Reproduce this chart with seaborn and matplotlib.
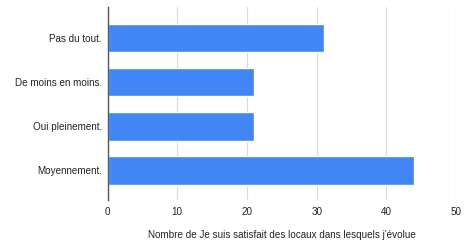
import matplotlib
matplotlib.use("Agg")
import matplotlib.pyplot as plt
import seaborn as sns
import pandas as pd

categories = ["Pas du tout.", "De moins en moins.", "Oui pleinement.", "Moyennement."]
values = [31, 21, 21, 44]
x_ticks = [0, 10, 20, 30, 40, 50]
x_label = "Nombre de Je suis satisfait des locaux dans lesquels j'évolue"

df = pd.DataFrame({"cat": categories, "val": values})

sns.set_theme(style="white")
plt.rcParams["font.family"] = ["Liberation Sans", "DejaVu Sans"]

fig = plt.figure(figsize=(4.75, 2.41), dpi=100)
ax = fig.add_axes([107.5 / 475, 1 - 200 / 241, (456 - 107.5) / 475, (200 - 7) / 241])

sns.barplot(data=df, x="val", y="cat", orient="h", color="#4285F4",
            saturation=1, width=0.65, ax=ax, zorder=3)

ax.set_xlim(0, 50)
ax.set_ylim(3.67, -0.70)
ax.set_xticks(x_ticks)
ax.set_xticklabels([str(t) for t in x_ticks])
ax.grid(axis="x", color="#d9d9d9", linewidth=0.8, zorder=0)
ax.set_axisbelow(True)
for s in ["top", "right", "bottom"]:
    ax.spines[s].set_visible(False)
ax.spines["left"].set_color("#555555")
ax.spines["left"].set_linewidth(1.0)
ax.spines["left"].set_zorder(4)
ax.tick_params(axis="both", length=0, labelsize=7.1, colors="#222222")
ax.tick_params(axis="x", pad=5)
ax.tick_params(axis="y", pad=4)
ax.set_ylabel("")
ax.set_xlabel(x_label, fontsize=7.1, color="#222222")
ax.xaxis.label.set_va("center")
ax.xaxis.set_label_coords(0.50, -35 / 193)

fig.savefig("out.png", dpi=100)
